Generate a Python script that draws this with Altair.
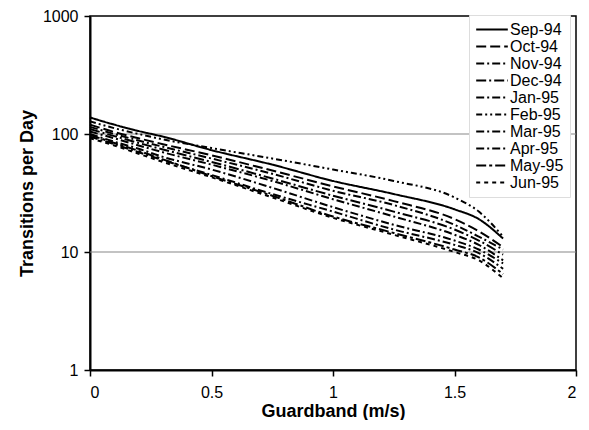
import altair as alt
import pandas as pd

months = ["Sep-94", "Oct-94", "Nov-94", "Dec-94", "Jan-95",
          "Feb-95", "Mar-95", "Apr-95", "May-95", "Jun-95"]
guardband = [0, 0.1, 0.2, 0.3, 0.5, 0.75, 1.0, 1.25, 1.5, 1.6, 1.7]

sep94 = [138, 120, 106, 95, 73, 55, 40, 31, 23, 19, 13]
oct94 = [120, 104, 92, 82, 66, 49, 36, 27, 19, 15, 11]
nov94 = [115, 100, 88, 78, 62, 46, 33, 25, 17, 13.5, 10.5]
dec94 = [110, 96, 84, 74, 58, 42, 30, 22, 15.5, 12.5, 9.5]
jan95 = [105, 92, 80, 70, 55, 40, 28, 20, 14, 11.5, 8.5]
feb95 = [128, 112, 100, 90, 76, 62, 50, 40, 29, 22, 13.5]
mar95 = [100, 86, 75, 64, 50, 35, 24, 17, 12.5, 10.5, 8]
apr95 = [95, 82, 70, 60, 45, 31, 22, 15.5, 11.5, 9.8, 7.2]
may95 = [98, 84, 72, 61, 44, 30, 20, 14.5, 10.5, 9, 6.5]
jun95 = [92, 80, 68, 58, 43, 29, 19.5, 14, 10, 8.5, 6]

series = [sep94, oct94, nov94, dec94, jan95, feb95, mar95, apr95, may95, jun95]
dashes = [[1, 0], [10, 4], [8, 3, 2, 3], [10, 3, 2, 3], [8, 3, 2, 3],
          [6, 3, 2, 3, 2, 3], [8, 3, 2, 3], [8, 3, 2, 3], [10, 3, 3, 3], [4, 4]]

rows = []
for m, vals in zip(months, series):
    for g, v in zip(guardband, vals):
        rows.append({"month": m, "guardband": g, "value": v})
df = pd.DataFrame(rows)

font = "Liberation Sans"

legend_cfg = dict(title=None, orient="none", legendX=379, legendY=-1,
                  symbolType="stroke", symbolSize=1000, clipHeight=17,
                  symbolStrokeWidth=2, labelFontSize=16, labelFont=font,
                  rowPadding=0, padding=6, fillColor="white",
                  strokeColor="#dddddd", labelOffset=1)

lines = alt.Chart(df).mark_line(strokeWidth=2, interpolate="monotone").encode(
    x=alt.X("guardband:Q",
            scale=alt.Scale(domain=[0, 2], nice=False),
            axis=alt.Axis(title="Guardband (m/s)", values=[0, 0.5, 1, 1.5, 2],
                          format="~g", grid=False, tickSize=6, tickWidth=1.5,
                          tickColor="black", domainColor="black", domainWidth=2,
                          labelFontSize=16, labelPadding=8, titleFontSize=18,
                          titlePadding=2, titleFontWeight="bold")),
    y=alt.Y("value:Q",
            scale=alt.Scale(type="log", domain=[1, 1000], nice=False),
            axis=alt.Axis(title="Transitions per Day", values=[1, 10, 100, 1000],
                          format="~g", grid=False, tickSize=6, tickWidth=1.5,
                          tickColor="black", domainColor="black", domainWidth=2,
                          labelFontSize=16, labelPadding=6, titleFontSize=18,
                          titlePadding=6, titleFontWeight="bold")),
    color=alt.Color("month:N",
                    scale=alt.Scale(domain=months, range=["black"] * 10),
                    legend=alt.Legend(**legend_cfg)),
    strokeDash=alt.StrokeDash("month:N",
                              scale=alt.Scale(domain=months, range=dashes),
                              legend=alt.Legend(**legend_cfg)),
)

grid_df = pd.DataFrame({"level": [10, 100]})
grid = alt.Chart(grid_df).mark_rule(color="#888888", strokeWidth=1.2).encode(
    y=alt.Y("level:Q"))

chart = alt.layer(grid, lines).properties(
    width=486, height=354,
    autosize=alt.AutoSizeParams(type="none"),
    padding={"left": 82, "top": 8, "right": 5, "bottom": 50},
).configure_view(stroke="black", strokeWidth=1.5).configure_axis(
    labelFont=font, titleFont=font, labelColor="black", titleColor="black"
).configure_legend(labelFont=font)

chart.save("out.html", embed_options={"renderer": "svg", "actions": False})
